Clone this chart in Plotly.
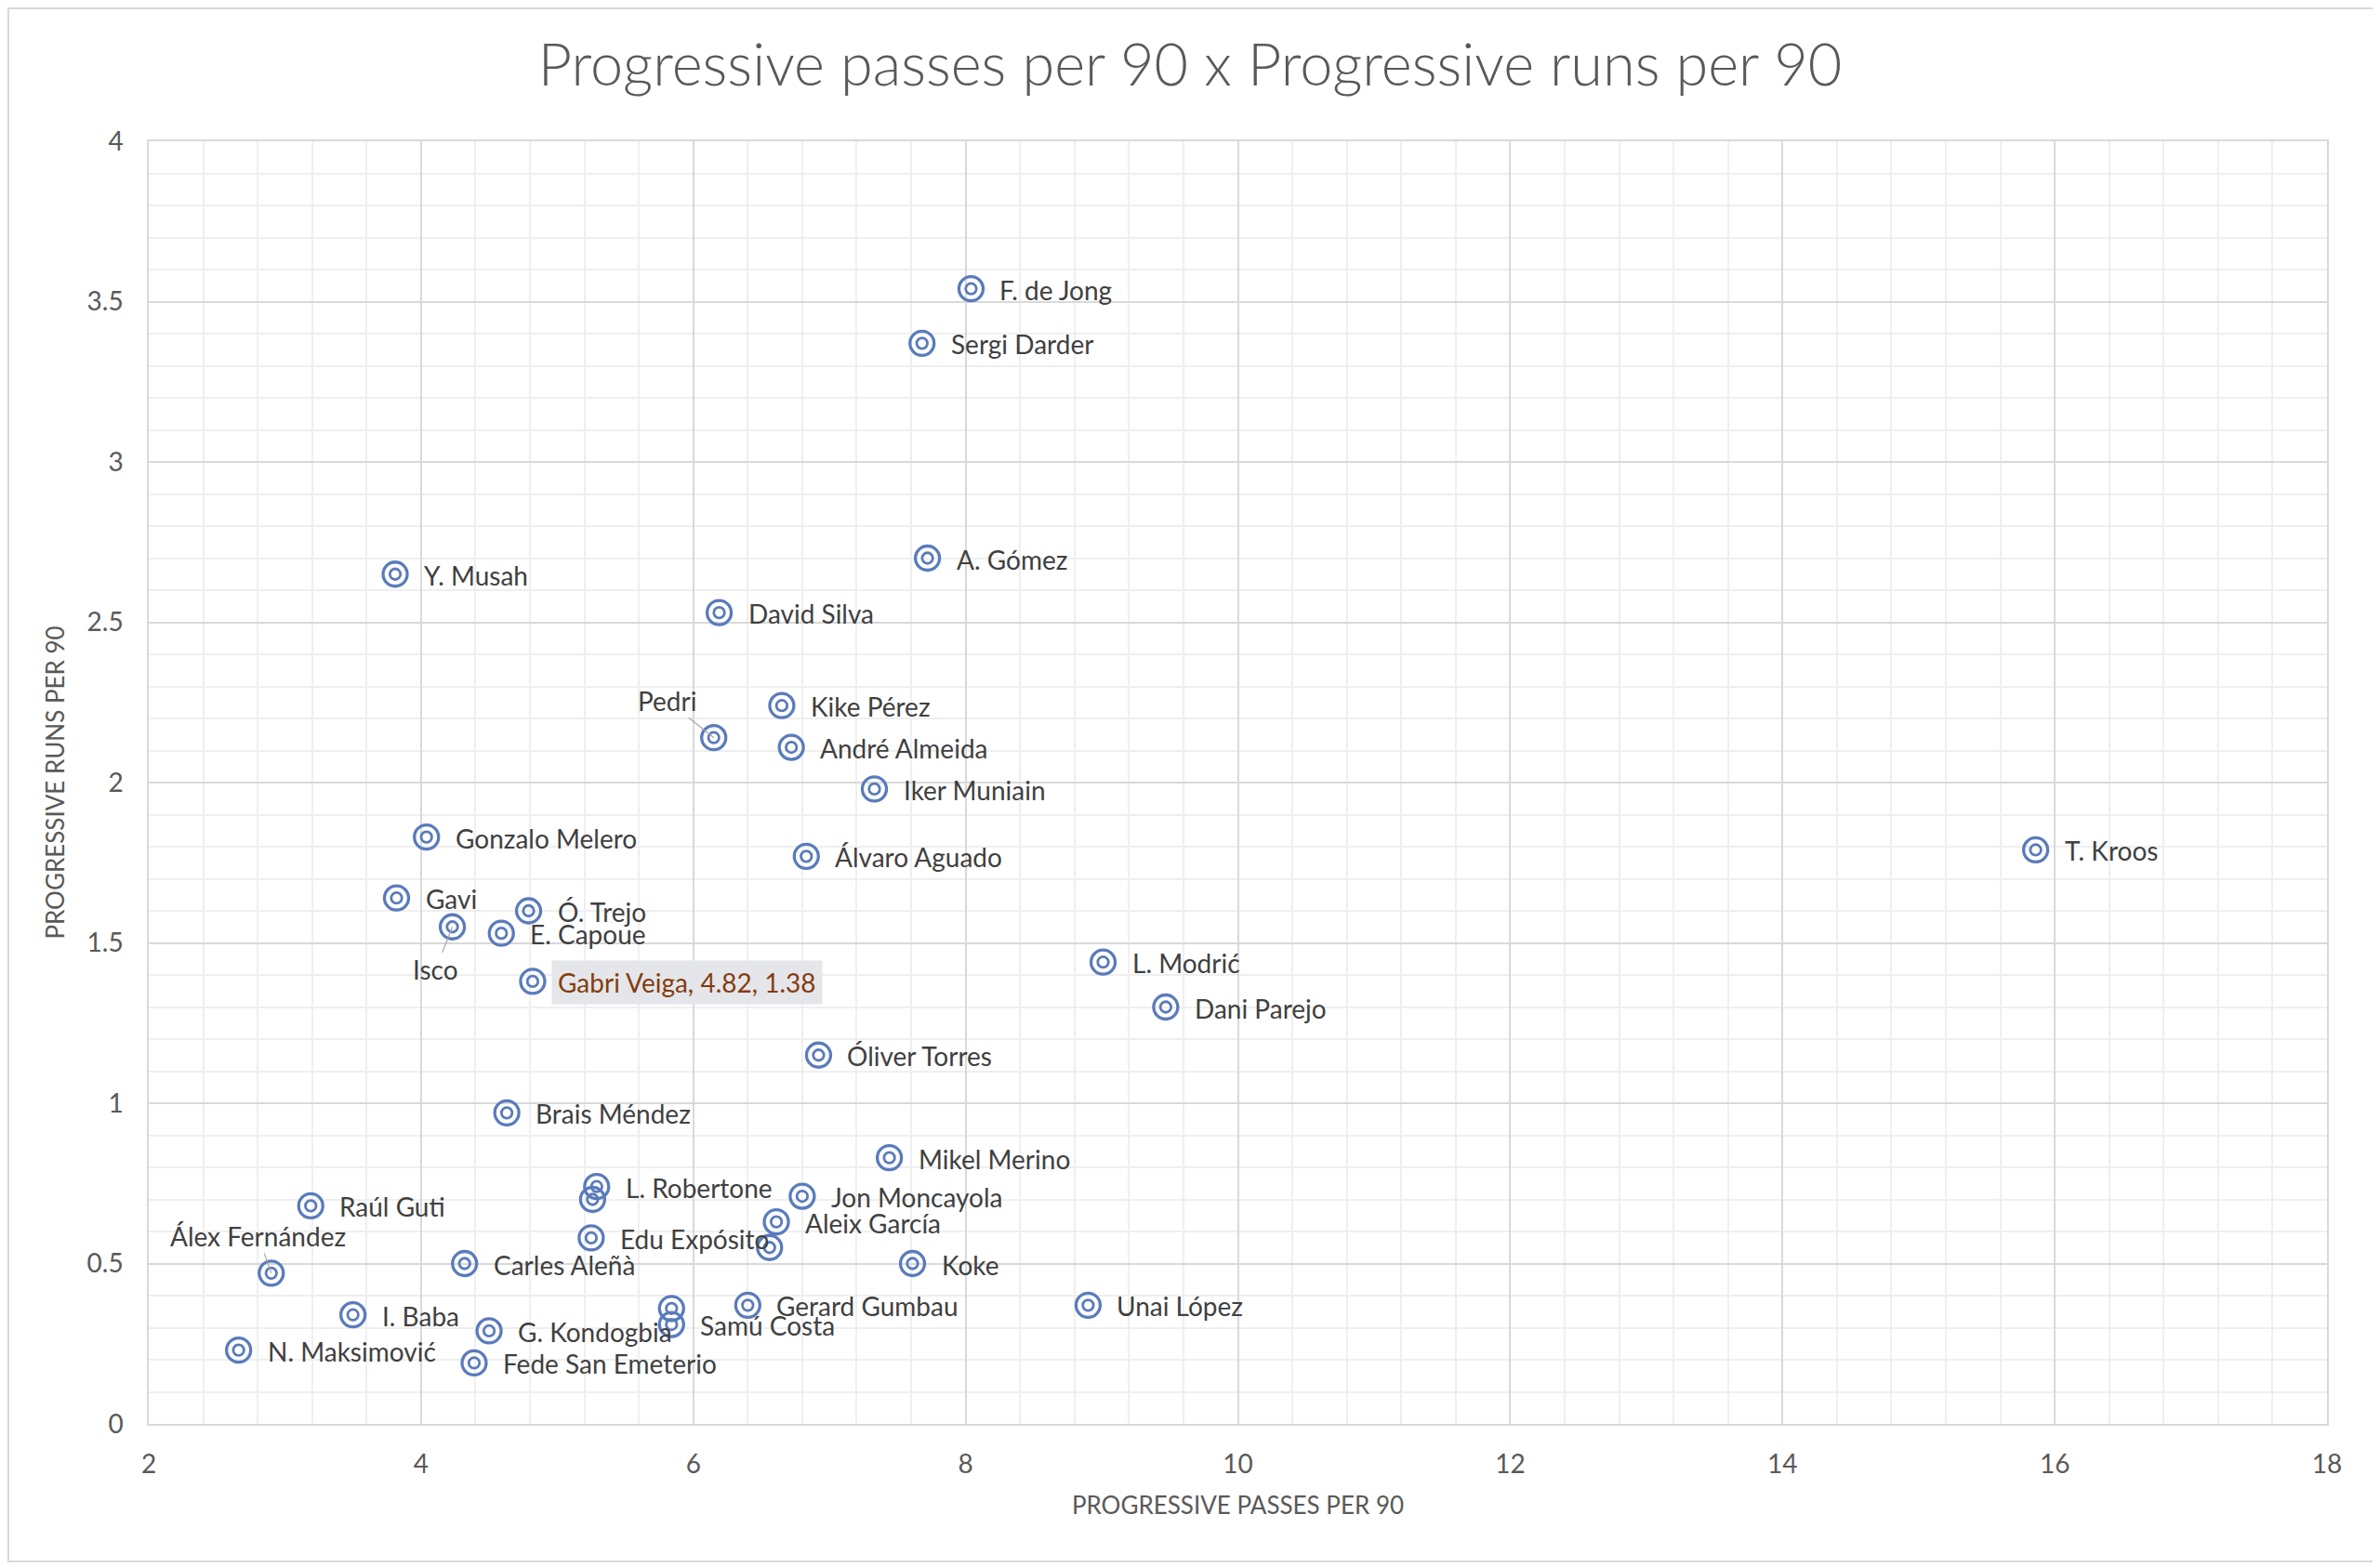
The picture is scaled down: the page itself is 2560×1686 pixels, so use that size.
import plotly.graph_objects as go

# ---------------- data ----------------
players = [
    "F. de Jong", "Sergi Darder", "A. Gómez", "Y. Musah", "David Silva", "Kike Pérez",
    "Pedri", "André Almeida", "Iker Muniain", "Gonzalo Melero", "Álvaro Aguado", "T. Kroos",
    "Gavi", "Ó. Trejo", "Isco", "E. Capoue", "Gabri Veiga", "L. Modrić", "Dani Parejo",
    "Óliver Torres", "Brais Méndez", "Mikel Merino", "L. Robertone", "", "Jon Moncayola",
    "Raúl Guti", "Aleix García", "Edu Expósito", "", "Álex Fernández", "Carles Aleñà",
    "Koke", "Gerard Gumbau", "", "Samú Costa", "Unai López", "I. Baba", "G. Kondogbia",
    "N. Maksimović", "Fede San Emeterio",
]
prog_passes = [
    8.04, 7.68, 7.72, 3.81, 6.19, 6.65,
    6.15, 6.72, 7.33, 4.04, 6.83, 15.86,
    3.82, 4.79, 4.23, 4.59, 4.82, 9.01, 9.47,
    6.92, 4.63, 7.44, 5.29, 5.26, 6.80,
    3.19, 6.61, 5.25, 6.56, 2.90, 4.32,
    7.61, 6.40, 5.84, 5.84, 8.90, 3.50, 4.50,
    2.66, 4.39,
]
prog_runs = [
    3.54, 3.37, 2.70, 2.65, 2.53, 2.24,
    2.14, 2.11, 1.98, 1.83, 1.77, 1.79,
    1.64, 1.60, 1.55, 1.53, 1.38, 1.44, 1.30,
    1.15, 0.97, 0.83, 0.74, 0.70, 0.71,
    0.68, 0.63, 0.58, 0.55, 0.47, 0.50,
    0.50, 0.37, 0.36, 0.31, 0.37, 0.34, 0.29,
    0.23, 0.19,
]
highlight_player = "Gabri Veiga"

title_text = "Progressive passes per 90 x Progressive runs per 90"
x_title = "PROGRESSIVE PASSES PER 90"
y_title = "PROGRESSIVE RUNS PER 90"

# ---------------- styling ----------------
FONT = "Lato, 'Open Sans', sans-serif"
TEXT = "#404040"
AXIS_TXT = "#595959"
BLUE = "#5A7BBC"
MAJOR = "#D9D9D9"
MINOR = "#EFEFEF"

W, H = 2552, 1678          # page has an 8px body margin
L, R, T, B = 152, 57, 144, 154
PW, PH = W - L - R, H - T - B

# label placements with leader lines (pixel offsets)
leader_offsets = {
    "Pedri": (-50, -40),
    "Isco": (-18, 46),
    "Álex Fernández": (-14, -40),
}

fig = go.Figure()
fig.add_trace(go.Scatter(
    x=prog_passes, y=prog_runs, mode="markers",
    marker=dict(symbol="circle-open", size=26, color=BLUE, line=dict(width=3.3, color=BLUE)),
    hoverinfo="skip", showlegend=False,
))
fig.add_trace(go.Scatter(
    x=prog_passes, y=prog_runs, mode="markers",
    marker=dict(symbol="circle-open", size=11.5, color=BLUE, line=dict(width=2.8, color=BLUE)),
    text=players, hovertemplate="%{text}: %{x}, %{y}<extra></extra>", showlegend=False,
))

LBL = 28
annotations = []
for name, xv, yv in zip(players, prog_passes, prog_runs):
    if not name:
        continue
    if name == highlight_player:
        annotations.append(dict(
            x=xv, y=yv, xref="x", yref="y",
            text=f"{name}, {xv:.2f}, {yv:.2f}",
            showarrow=False, xanchor="left", yanchor="middle", xshift=20, yshift=-1,
            font=dict(family=FONT, size=LBL, color="#843C0C"),
            bgcolor="#E4E6EA", borderpad=6,
        ))
    elif name in leader_offsets:
        ax, ay = leader_offsets[name]
        annotations.append(dict(
            x=xv, y=yv, xref="x", yref="y", text=name,
            showarrow=True, arrowhead=0, arrowwidth=1.2, arrowcolor="#A6A6A6",
            ax=ax, ay=ay, standoff=0,
            font=dict(family=FONT, size=LBL, color=TEXT),
        ))
    else:
        annotations.append(dict(
            x=xv, y=yv, xref="x", yref="y", text=name,
            showarrow=False, xanchor="left", yanchor="middle", xshift=29, yshift=-1,
            font=dict(family=FONT, size=LBL, color=TEXT),
        ))

fig.update_layout(
    width=W, height=H,
    paper_bgcolor="white", plot_bgcolor="white",
    margin=dict(l=L, r=R, t=T, b=B, autoexpand=False),
    title=dict(
        text=title_text, x=(1280 - 8) / W, xref="container", xanchor="center",
        y=1 - (70 - 8) / H, yref="container", yanchor="middle",
        font=dict(family=FONT, size=63, color=AXIS_TXT, weight=300),
    ),
    annotations=annotations,
    font=dict(family=FONT, color=AXIS_TXT),
    shapes=[dict(
        type="rect", xref="paper", yref="paper",
        x0=(1 - L) / PW, x1=(2548 - L) / PW,
        y0=(T + PH - 1672) / PH, y1=(T + PH - 1) / PH,
        line=dict(color="#D9D9D9", width=2), fillcolor="rgba(0,0,0,0)", layer="below",
    )],
)

fig.update_xaxes(
    range=[2, 18], tick0=2, dtick=2, showgrid=True, gridcolor=MAJOR, gridwidth=1.5,
    minor=dict(tick0=2, dtick=0.4, showgrid=True, gridcolor=MINOR, gridwidth=1.5),
    zeroline=False, showline=True, linecolor=MAJOR, linewidth=1.5, mirror=True,
    ticks="outside", ticklen=18, tickcolor="rgba(0,0,0,0)",
    tickfont=dict(family=FONT, size=28, color=AXIS_TXT),
    title=dict(text=x_title, standoff=20, font=dict(family=FONT, size=26, color=AXIS_TXT)),
)
fig.update_yaxes(
    range=[0, 4], tick0=0, dtick=0.5, showgrid=True, gridcolor=MAJOR, gridwidth=1.5,
    minor=dict(tick0=0, dtick=0.1, showgrid=True, gridcolor=MINOR, gridwidth=1.5),
    zeroline=False, showline=True, linecolor=MAJOR, linewidth=1.5, mirror=True,
    ticks="outside", ticklen=20, tickcolor="rgba(0,0,0,0)",
    tickfont=dict(family=FONT, size=28, color=AXIS_TXT),
    title=dict(text=y_title, standoff=16, font=dict(family=FONT, size=26, color=AXIS_TXT)),
)

fig.write_html("out.html")
